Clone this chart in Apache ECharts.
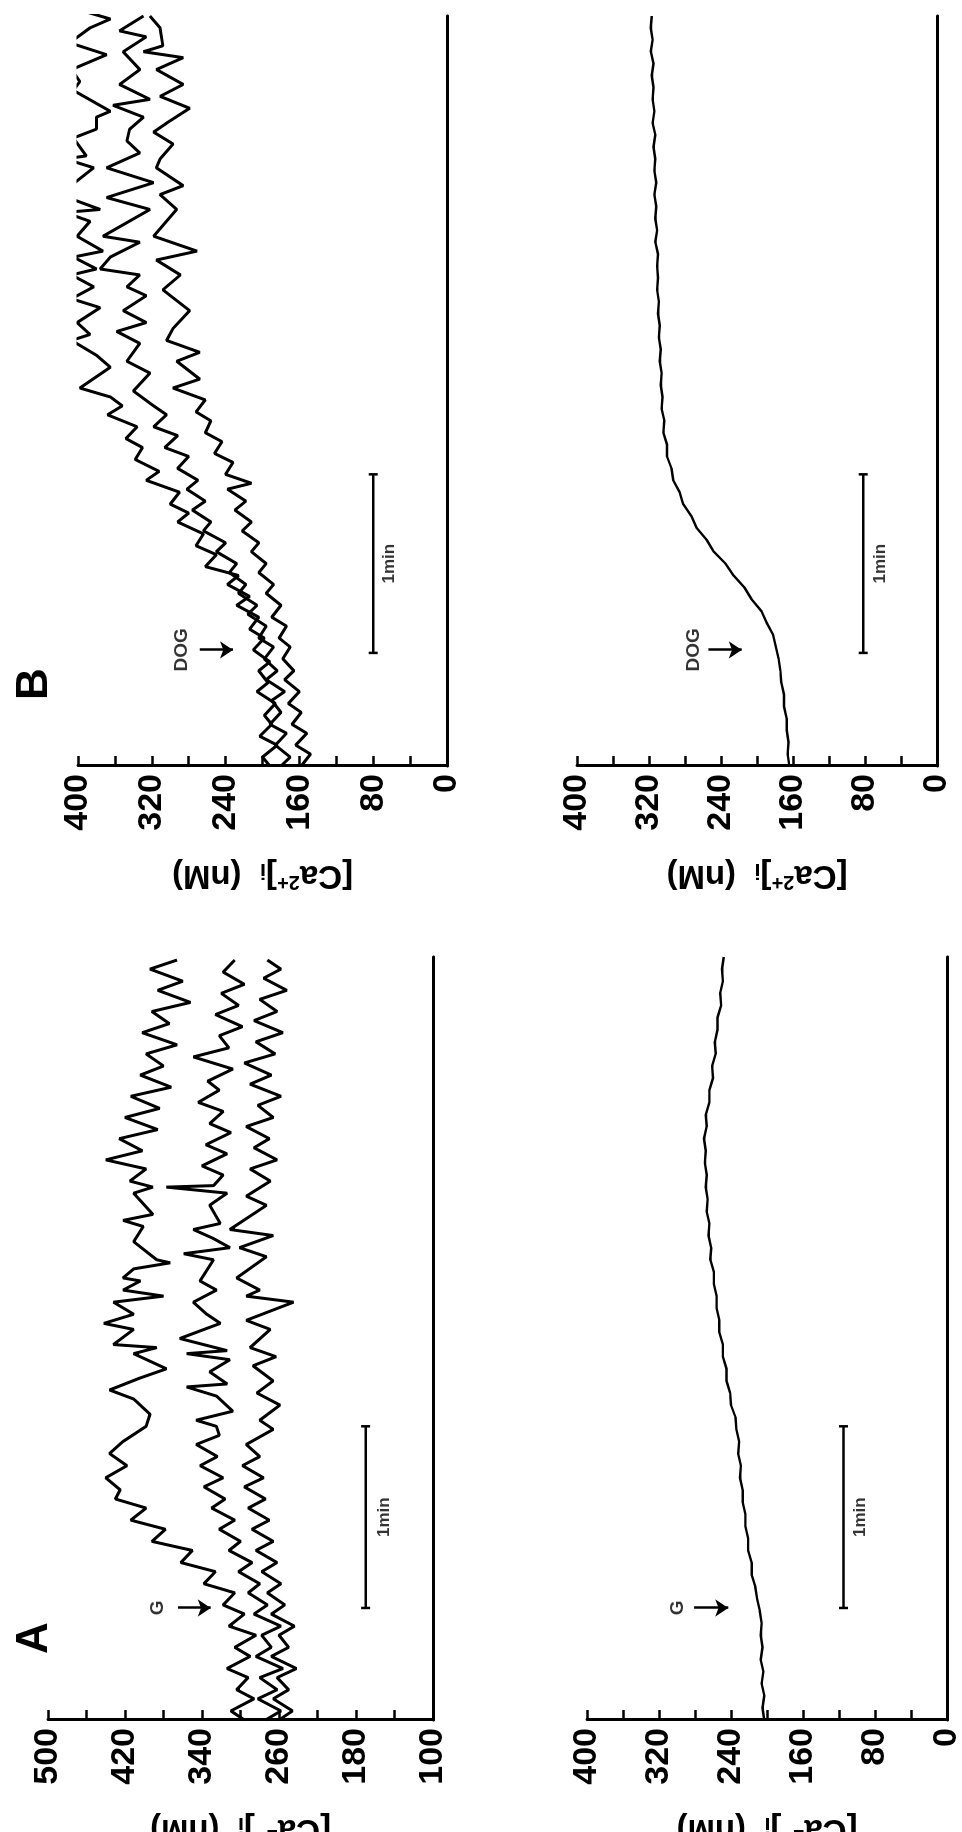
<!DOCTYPE html>
<html>
<head>
<meta charset="utf-8">
<script src="https://cdn.jsdelivr.net/npm/echarts@6/dist/echarts.min.js"></script>
<style>
  html, body { margin: 0; padding: 0; background: #fff; overflow: hidden; }
  #wrap { position: absolute; left: 0; top: 0; width: 962px; height: 1832px; overflow: hidden; }
  /* the figure is drawn upright and turned a quarter turn, like the scan */
  #chart { position: absolute; left: 0; top: 0; width: 1832px; height: 962px;
           transform-origin: 0 0; transform: translate(0, 1832px) rotate(-90deg); }
</style>
</head>
<body>
<div id="wrap"><div id="chart"></div></div>
<script>
// sample step of the evenly sampled (smooth) traces, seconds
var STEP = 4;

// panel A, upper: three cells, G added at ~37 s (time s / value nM at the turning points)
var aTop1T = [0,3,7,10,14,17,21,24,28,31,35,38,42,45,49,52,56,59,63,66,70,73,76,80,84,88,92,
  97,101,106,109,113,116,121,123,124,129,131,134,138,140,142,145,146,149,151,152,158,163,165,167,174,176,178,
  182,185,188,192,195,199,202,206,209,213,216,220,223,227,230,234,237,241,244,248,251];
var aTop1V = [296,310,286,304,292,314,290,306,284,312,296,318,306,338,326,362,350,392,378,414,398,430,425,440,418,436,422,
  398,394,411,436,404,377,411,387,432,411,442,411,432,380,422,404,422,411,373,387,411,401,422,391,411,391,415,
  398,440,402,426,386,420,384,414,372,404,380,398,366,402,374,392,352,386,360,394,366];
var aTop2T = [0,3,7,10,14,17,21,24,28,31,35,38,42,45,49,52,56,59,63,66,70,73,77,80,84,87,91,94,
  97,99,102,107,110,111,115,119,121,122,126,131,134,138,142,145,152,154,156,159,162,164,170,174,176,176.5,
  180,183,187,190,194,197,201,204,208,211,215,219,222,226,229,233,236,240,243,247,251];
var aTop2V = [274,258,282,262,280,256,284,268,278,258,286,272,292,280,302,288,312,300,322,306,330,316,338,318,342,324,346,322,
  325,346,308,325,356,314,332,311,356,314,363,321,335,349,325,342,328,359,311,328,349,321,332,314,377,328,
  318,340,314,336,310,332,318,344,322,334,308,349,312,322,298,326,302,320,296,318,306];
var aTop3T = [0,3,7,10,14,17,21,24,28,31,35,38,42,45,49,52,56,59,63,66,70,73,77,80,84,87,91,
  96,99,104,108,112,117,120,123,129,132,138,140,142,146,153,156,160,162,170,173,178,
  182,185,189,192,196,199,203,206,210,213,217,220,224,227,231,234,238,241,245,248,251];
var aTop3V = [260,246,266,250,262,242,268,250,260,244,268,254,272,258,278,262,284,266,288,270,292,274,296,276,298,280,294,
  266,280,259,283,266,287,263,290,269,294,245,294,280,304,273,301,266,311,273,294,269,
  290,262,286,270,294,266,282,258,290,268,296,264,284,256,286,262,280,252,276,258,272];
// panel A, lower: mean trace (even 4 s samples)
var aBot = [203,205,203,206,204,207,205,207,206,208,211,213,217,217,221,221,224,224,227,227,
  230,229,232,231,234,235,240,241,245,245,249,249,253,253,256,256,259,259,263,262,
  265,264,267,266,268,267,269,268,270,267,268,264,264,260,261,257,258,255,255,251,252,249,250,248];

// panel B, upper: three cells, DOG added at ~39 s (time s / value nM at the turning points)
var bTop1T = [0,3,7,10,14,17,21,25,28,32,35,39,43,46,50,54,57,61,64,67,71,74,78,82,85,88,92,96,99,103,107,110,114,118,121,
  124,127,134,138,143,145,149,154,157,161,165,167,171,173,178,183,186,187,192,201,204,205,211,214,218,220,227,230,234,239,243,248,251,254];
var bTop1V = [192,200,184,203,190,198,186,206,194,204,192,210,198,214,204,228,214,238,226,262,250,272,264,292,280,300,290,326,312,338,330,348,336,368,352,
  365,398,365,380,407,387,401,376,407,383,407,380,405,373,401,387,414,376,420,383,414,391,405,380,380,365,405,398,407,369,409,387,365,398];
var bTop2T = [0,3,7,11,14,18,22,25,29,32,36,40,43,47,51,54,58,61,65,68,72,75,79,82,86,89,93,96,100,104,107,111,114,118,121,
  126,132,136,142,146,149,153,158,161,165,167,171,176,178,187,191,196,201,206,210,214,218,222,224,229,234,240,245,247,252];
var bTop2V = [180,170,186,174,192,180,190,176,196,184,198,188,204,196,216,206,226,218,236,228,250,240,264,256,276,262,282,270,292,280,306,292,318,304,318,
  340,322,347,333,358,326,351,326,347,333,376,365,333,373,322,369,318,369,333,347,344,329,362,322,355,333,351,326,355,329];
var bTop3T = [0,4,7,11,14,18,21,25,29,32,36,40,43,47,50,54,58,61,65,68,72,75,79,82,86,89,93,95,98,102,105,109,112,116,119,123,
  127,130,136,139,143,147,153,160,165,170,173,178,187,192,195,201,204,209,213,216,221,225,229,234,238,240,242,248,252];
var bTop3V = [158,148,164,152,168,158,172,160,176,166,178,170,182,174,190,180,196,188,204,196,212,204,222,212,230,218,238,212,240,232,252,244,262,256,272,262,
  297,268,293,268,304,297,279,308,289,315,271,318,293,311,286,315,311,297,318,304,279,311,286,315,286,329,308,311,322];
// panel B, lower: mean trace (even 4 s samples)
var bBot = [164,166,165,167,167,170,170,173,174,176,179,182,189,195,206,214,226,235,248,256,
  267,273,282,286,293,295,300,300,304,303,306,305,307,306,308,307,309,308,310,309,
  311,310,311,310,313,311,313,312,314,312,314,313,315,313,316,314,316,315,317,315,318,316,318,317];

// value axes
var yMin = [100, 0, 0, 0];
var yMax = [500, 400, 400, 400];
var yStep = 80;
var tEnd = [252, 252, 252, 252];

// marks: time of addition, arrow tail/head values, label value
var addTime = [37, 37, 39, 39];
var addName = ['G', 'G', 'DOG', 'DOG'];
var arrowTail = [365, 281, 268, 254];
var arrowHead = [331, 243, 232, 217];
var addLabelAt = [386, 299, 288, 270];
// 1 min bars: start time and height, label height
var barStart = [37, 37, 38, 38];
var barLevel = [170, 115, 80, 82];
var barLabelAt = [151, 96, 62, 63];

var grids = [
  { left: 112, top: 48, width: 763, height: 385 },   // A upper
  { left: 112, top: 587, width: 763, height: 360 },  // A lower
  { left: 1066, top: 78, width: 750, height: 369 },  // B upper
  { left: 1066, top: 577, width: 750, height: 360 }  // B lower
];

function even(arr) {
  return arr.map(function (v, i) { return [i * STEP, v]; });
}
function pairs(T, V) {
  return T.map(function (t, i) { return [t, V[i]]; });
}
var traces = [
  [pairs(aTop1T, aTop1V), pairs(aTop2T, aTop2V), pairs(aTop3T, aTop3V)],
  [even(aBot)],
  [pairs(bTop1T, bTop1V), pairs(bTop2T, bTop2V), pairs(bTop3T, bTop3V)],
  [even(bBot)]
];

var FONT = '"Liberation Sans", Arial, sans-serif';
var xAxes = [], yAxes = [], series = [];

grids.forEach(function (g, i) {
  g.outerBoundsMode = 'none';
  xAxes.push({
    gridIndex: i, type: 'value', min: 0, max: tEnd[i],
    axisLine: { show: true, onZero: true, lineStyle: { color: '#000', width: 3 } },
    axisTick: { show: false }, axisLabel: { show: false }, splitLine: { show: false }
  });
  yAxes.push({
    gridIndex: i, type: 'value', min: yMin[i], max: yMax[i], interval: yStep,
    axisLine: { show: true, lineStyle: { color: '#000', width: 3 } },
    axisTick: { show: true, inside: true, length: 10, lineStyle: { color: '#000', width: 2.5 } },
    minorTick: { show: true, splitNumber: 2, length: 10, lineStyle: { color: '#000', width: 2.5 } },
    axisLabel: { color: '#000', fontSize: 34, fontWeight: 'bold', fontFamily: FONT, margin: 8 },
    splitLine: { show: false },
    name: '[Ca{sup|2+}]{sub|i}  (nM)',
    nameLocation: 'middle', nameRotate: 90, nameGap: 92,
    nameTextStyle: {
      color: '#000', fontSize: 33, fontWeight: 'bold', fontFamily: FONT,
      rich: {
        sup: { fontSize: 20, fontWeight: 'bold', fontFamily: FONT, color: '#000', verticalAlign: 'top', padding: [0, 0, 14, 0] },
        sub: { fontSize: 22, fontWeight: 'bold', fontFamily: FONT, color: '#000', padding: [10, 0, 0, 0] }
      }
    }
  });

  traces[i].forEach(function (data, k) {
    var s = {
      type: 'line', xAxisIndex: i, yAxisIndex: i, data: data,
      symbol: 'none', silent: true, animation: false,
      lineStyle: { color: '#000', width: (i % 2 === 0) ? 3 : 2.4 }
    };
    if (k === 0) {
      s.markLine = {
        silent: true, animation: false, symbol: ['none', 'arrow'], symbolSize: 13,
        lineStyle: { color: '#000', width: 2.5, type: 'solid' },
        label: { show: false },
        data: [[{ coord: [addTime[i], arrowTail[i]] }, { coord: [addTime[i], arrowHead[i]] }]]
      };
    }
    series.push(s);
  });

  // the 1 min bar
  series.push({
    type: 'line', xAxisIndex: i, yAxisIndex: i, silent: true, animation: false,
    data: [[barStart[i], barLevel[i]], [barStart[i] + 60, barLevel[i]]],
    symbol: 'rect', symbolSize: [2.5, 9], showSymbol: true,
    itemStyle: { color: '#000' }, lineStyle: { color: '#000', width: 2.5 }
  });
  // texts
  series.push({
    type: 'scatter', xAxisIndex: i, yAxisIndex: i, silent: true, animation: false,
    symbolSize: 1, itemStyle: { color: 'rgba(0,0,0,0)' },
    data: [
      { value: [addTime[i], addLabelAt[i]], label: { formatter: addName[i] } },
      { value: [barStart[i] + 30, barLabelAt[i]], label: { formatter: '1min', fontSize: 17 } }
    ],
    label: { show: true, position: 'inside', color: '#000', fontSize: 19, fontWeight: 'bold', fontFamily: FONT }
  });
});

var chart = echarts.init(document.getElementById('chart'), null, { renderer: 'canvas' });
chart.setOption({
  backgroundColor: '#fff',
  animation: false,
  textStyle: { fontFamily: FONT },
  title: [
    { text: 'A', left: 173, top: 8, textStyle: { fontSize: 44, fontWeight: 'bold', color: '#000', fontFamily: FONT } },
    { text: 'B', left: 1127, top: 8, textStyle: { fontSize: 44, fontWeight: 'bold', color: '#000', fontFamily: FONT } }
  ],
  grid: grids,
  xAxis: xAxes,
  yAxis: yAxes,
  series: series
});
</script>
</body>
</html>
